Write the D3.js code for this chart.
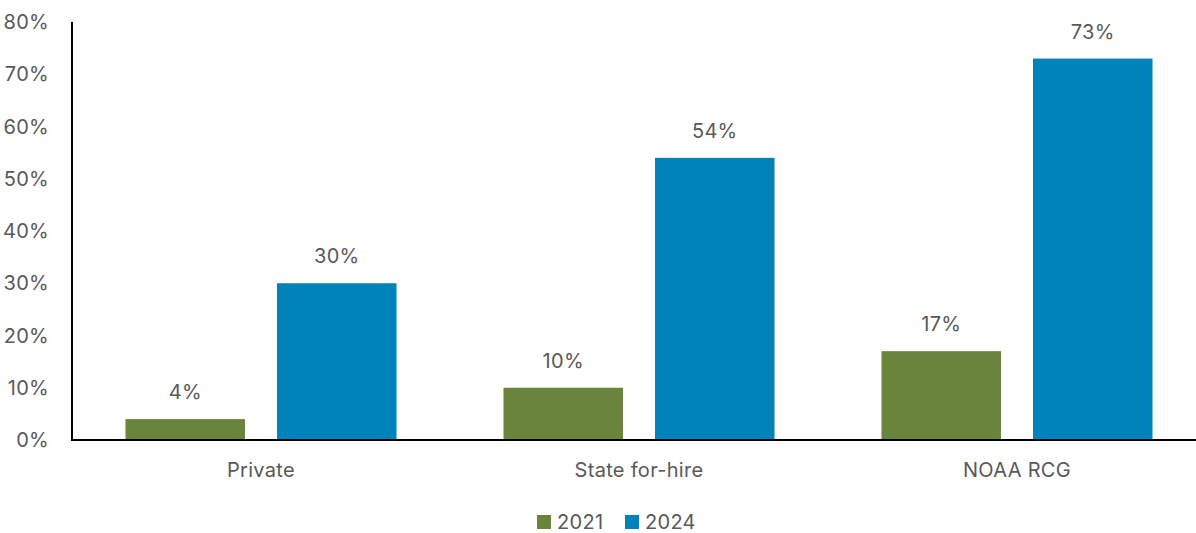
<!DOCTYPE html>
<html>
<head>
<meta charset="utf-8">
<script src="https://cdn.jsdelivr.net/npm/d3@7"></script>
<style>
  html, body { margin: 0; padding: 0; background: #fff; }
  svg text { font-family: "Inter", "Liberation Sans", sans-serif; fill: #595959; letter-spacing: 0.3px; }
</style>
</head>
<body>
<svg id="chart" width="1196" height="533"></svg>
<script>
// Share of respondents by survey, 2021 vs 2024
const categories = ["Private", "State for-hire", "NOAA RCG"];
const seriesNames = ["2021", "2024"];
const values2021 = [4, 10, 17];
const values2024 = [30, 54, 73];
const yTicks = [0, 10, 20, 30, 40, 50, 60, 70, 80];
const colors = ["#6b843c", "#0083b8"];

const svg = d3.select("#chart");
const margin = { left: 72, top: 22, bottom: 440, right: 1206 };
const fontSize = 20;

const x0 = d3.scaleBand().domain(categories).range([margin.left, margin.right]).padding(0);
const x1 = d3.scaleBand().domain(seriesNames).range([0, x0.bandwidth()])
  .paddingInner(0.211).paddingOuter(0.353);
const y = d3.scaleLinear().domain([0, 80]).range([margin.bottom, margin.top]);

const seriesValues = [values2021, values2024];
const rows = [];
categories.forEach((c, i) => {
  seriesNames.forEach((s, j) => rows.push({ cat: c, series: s, value: seriesValues[j][i], color: colors[j] }));
});

// Y axis tick labels
svg.append("g").selectAll("text").data(yTicks).join("text")
  .attr("x", 49).attr("y", d => y(d)).attr("dy", "0.35em")
  .attr("text-anchor", "end").attr("font-size", fontSize)
  .text(d => d + "%");

// Bars
svg.append("g").selectAll("rect").data(rows).join("rect")
  .attr("x", d => x0(d.cat) + x1(d.series))
  .attr("width", x1.bandwidth())
  .attr("y", d => y(d.value))
  .attr("height", d => y(0) - y(d.value))
  .attr("fill", d => d.color);

// Value labels
svg.append("g").selectAll("text").data(rows).join("text")
  .attr("x", d => x0(d.cat) + x1(d.series) + x1.bandwidth() / 2)
  .attr("y", d => y(d.value) - 20)
  .attr("text-anchor", "middle").attr("font-size", fontSize)
  .text(d => d.value + "%");

// Axis lines
svg.append("line").attr("x1", margin.left).attr("x2", margin.left)
  .attr("y1", y(80)).attr("y2", y(0) + 1).attr("stroke", "#000").attr("stroke-width", 2);
svg.append("line").attr("x1", margin.left - 1).attr("x2", 1196)
  .attr("y1", y(0)).attr("y2", y(0)).attr("stroke", "#000").attr("stroke-width", 2);

// Category labels
svg.append("g").selectAll("text").data(categories).join("text")
  .attr("x", d => x0(d) + x0.bandwidth() / 2).attr("y", 470).attr("dy", "0.35em")
  .attr("text-anchor", "middle").attr("font-size", fontSize)
  .text(d => d);

// Legend
const legendX = [537, 625];
const legend = svg.append("g").selectAll("g").data(seriesNames).join("g")
  .attr("transform", (d, i) => `translate(${legendX[i]},522)`);
legend.append("rect").attr("x", 0).attr("y", -7).attr("width", 14).attr("height", 14)
  .attr("fill", (d, i) => colors[i]);
legend.append("text").attr("x", 20).attr("y", 0).attr("dy", "0.35em")
  .attr("font-size", fontSize).text(d => d);
</script>
</body>
</html>
